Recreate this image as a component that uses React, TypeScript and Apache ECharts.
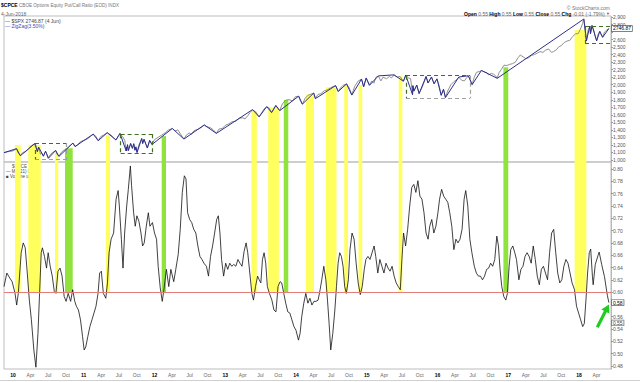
import React, { useEffect, useRef } from "react";
import * as echarts from "echarts";

// ---------- data (x = decimal year) ----------
const spx: number[][] = [
  [2009.873,1097],[2009.92,1108],[2009.96,1115],[2010.0,1120],[2010.03,1140],[2010.05,1150],[2010.075,1090],[2010.104,1060],[2010.14,1100],[2010.18,1110],[2010.22,1150],[2010.26,1190],[2010.307,1215],[2010.33,1180],[2010.345,1115],[2010.362,1168],[2010.39,1075],[2010.41,1090],[2010.43,1052],[2010.46,1115],[2010.48,1075],[2010.50,1025],[2010.53,1075],[2010.56,1100],[2010.603,1125],[2010.62,1080],[2010.649,1050],[2010.68,1095],[2010.71,1125],[2010.75,1140],[2010.79,1180],[2010.847,1222],[2010.877,1180],[2010.91,1195],[2010.95,1240],[2010.99,1258],
  [2011.03,1270],[2011.07,1290],[2011.10,1320],[2011.134,1342],[2011.17,1315],[2011.205,1258],[2011.24,1310],[2011.28,1330],[2011.332,1360],[2011.37,1340],[2011.40,1320],[2011.43,1290],[2011.455,1268],[2011.49,1320],[2011.512,1350],[2011.55,1310],[2011.58,1260],[2011.600,1122],[2011.619,1200],[2011.630,1126],[2011.663,1217],[2011.688,1156],[2011.707,1214],[2011.723,1131],[2011.737,1172],[2011.753,1102],[2011.78,1200],[2011.819,1282],[2011.833,1220],[2011.852,1272],[2011.899,1160],[2011.932,1258],[2011.964,1207],
  [2012.0,1270],[2012.05,1300],[2012.10,1330],[2012.15,1360],[2012.20,1400],[2012.252,1417],[2012.29,1385],[2012.33,1400],[2012.37,1340],[2012.416,1280],[2012.45,1330],[2012.49,1360],[2012.52,1340],[2012.56,1390],[2012.62,1410],[2012.66,1430],[2012.704,1463],[2012.74,1440],[2012.79,1430],[2012.83,1400],[2012.874,1355],[2012.91,1410],[2012.96,1420],
  [2013.0,1460],[2013.05,1480],[2013.10,1510],[2013.15,1515],[2013.20,1555],[2013.25,1560],[2013.28,1545],[2013.32,1590],[2013.35,1630],[2013.386,1666],[2013.43,1640],[2013.479,1575],[2013.52,1635],[2013.55,1680],[2013.586,1706],[2013.62,1690],[2013.655,1632],[2013.69,1680],[2013.715,1722],[2013.74,1690],[2013.770,1658],[2013.81,1750],[2013.86,1795],[2013.90,1802],[2013.95,1785],[2013.99,1840],
  [2014.038,1846],[2014.06,1790],[2014.090,1743],[2014.13,1820],[2014.17,1860],[2014.20,1870],[2014.25,1888],[2014.274,1817],[2014.31,1870],[2014.35,1880],[2014.40,1920],[2014.44,1930],[2014.49,1960],[2014.52,1975],[2014.56,1986],[2014.597,1912],[2014.64,1970],[2014.68,2000],[2014.715,2009],[2014.75,1960],[2014.789,1865],[2014.83,1980],[2014.88,2050],[2014.926,2073],[2014.956,1975],[2014.992,2088],
  [2015.038,1994],[2015.07,2050],[2015.10,2020],[2015.13,2100],[2015.164,2115],[2015.20,2050],[2015.23,2100],[2015.28,2080],[2015.32,2110],[2015.35,2090],[2015.386,2129],[2015.43,2100],[2015.47,2110],[2015.518,2048],[2015.551,2126],[2015.59,2090],[2015.62,2080],[2015.647,1870],[2015.652,1985],[2015.666,1916],[2015.707,1993],[2015.74,1884],[2015.78,1960],[2015.81,2030],[2015.838,2108],[2015.866,2025],[2015.915,2100],[2015.951,2014],[2015.992,2076],
  [2016.02,2000],[2016.052,1861],[2016.085,1938],[2016.112,1831],[2016.15,1930],[2016.19,2000],[2016.23,2040],[2016.27,2065],[2016.301,2100],[2016.34,2060],[2016.38,2050],[2016.41,2090],[2016.436,2117],[2016.489,2003],[2016.52,2100],[2016.55,2165],[2016.59,2175],[2016.621,2188],[2016.66,2170],[2016.70,2160],[2016.72,2130],[2016.76,2150],[2016.79,2140],[2016.82,2120],[2016.844,2087],[2016.87,2160],[2016.90,2200],[2016.94,2260],[2016.98,2255],
  [2017.02,2270],[2017.06,2280],[2017.10,2300],[2017.14,2360],[2017.17,2395],[2017.21,2370],[2017.25,2345],[2017.29,2360],[2017.33,2390],[2017.37,2400],[2017.41,2420],[2017.45,2440],[2017.49,2430],[2017.53,2460],[2017.57,2475],[2017.61,2430],[2017.64,2440],[2017.68,2465],[2017.71,2500],[2017.75,2520],[2017.79,2560],[2017.83,2580],[2017.87,2590],[2017.91,2640],[2017.95,2675],[2017.99,2680],
  [2018.02,2740],[2018.05,2810],[2018.068,2871],[2018.085,2760],[2018.104,2583],[2018.13,2730],[2018.153,2778],[2018.162,2680],[2018.184,2785],[2018.21,2720],[2018.23,2640],[2018.249,2584],[2018.27,2670],[2018.293,2707],[2018.31,2670],[2018.334,2632],[2018.36,2700],[2018.39,2725],[2018.422,2747]
];

const zigzag: number[][] = [
  [2009.873,1097],[2010.05,1150],[2010.104,1056],[2010.307,1217],[2010.345,1110],[2010.362,1171],[2010.43,1050],[2010.46,1117],[2010.50,1022],[2010.603,1127],[2010.649,1047],[2010.847,1225],[2010.877,1178],
  [2011.134,1343],[2011.205,1256],[2011.332,1363],[2011.455,1265],[2011.512,1353],[2011.600,1119],[2011.603,1172],[2011.605,1120],[2011.619,1204],[2011.630,1124],[2011.663,1219],[2011.688,1154],[2011.707,1216],[2011.723,1129],[2011.737,1175],[2011.753,1099],[2011.819,1285],[2011.833,1218],[2011.852,1275],[2011.899,1158],[2011.932,1261],[2011.964,1205],
  [2012.252,1419],[2012.416,1278],[2012.704,1466],[2012.874,1353],
  [2013.386,1669],[2013.479,1573],[2013.586,1709],[2013.655,1630],[2013.715,1725],[2013.770,1656],
  [2014.038,1848],[2014.090,1741],[2014.25,1890],[2014.274,1815],[2014.56,1988],[2014.597,1910],[2014.715,2011],[2014.789,1862],[2014.926,2075],[2014.956,1972],[2014.992,2090],
  [2015.038,1992],[2015.164,2117],[2015.386,2131],[2015.518,2046],[2015.551,2128],[2015.647,1868],[2015.652,1988],[2015.666,1914],[2015.707,1995],[2015.74,1882],[2015.838,2110],[2015.866,2023],[2015.915,2103],[2015.951,2012],[2015.992,2078],
  [2016.052,1859],[2016.085,1940],[2016.112,1829],[2016.301,2102],[2016.436,2119],[2016.489,2001],[2016.621,2190],[2016.844,2085],
  [2018.068,2873],[2018.104,2581],[2018.153,2780],[2018.162,2678],[2018.184,2787],[2018.249,2582],[2018.293,2709],[2018.334,2630],[2018.422,2747]
];

const cpceMA: number[][] = [
  [2009.873,0.609],[2009.913,0.631],[2009.954,0.623],[2009.988,0.617],[2010.029,0.598],[2010.052,0.579],[2010.075,0.598],[2010.116,0.664],[2010.145,0.680],[2010.173,0.672],[2010.202,0.631],[2010.231,0.587],[2010.260,0.555],[2010.295,0.506],[2010.324,0.478],[2010.353,0.533],[2010.376,0.598],[2010.399,0.664],[2010.416,0.672],[2010.445,0.658],[2010.474,0.639],[2010.497,0.664],[2010.526,0.642],[2010.555,0.626],[2010.584,0.601],[2010.607,0.598],[2010.636,0.634],[2010.665,0.639],[2010.694,0.626],[2010.723,0.593],[2010.751,0.585],[2010.780,0.598],[2010.815,0.585],[2010.844,0.604],[2010.873,0.585],[2010.896,0.577],[2010.925,0.571],[2010.954,0.555],[2010.983,0.528],
  [2011.006,0.506],[2011.029,0.511],[2011.058,0.528],[2011.087,0.544],[2011.116,0.555],[2011.145,0.566],[2011.173,0.577],[2011.202,0.598],[2011.225,0.631],[2011.249,0.634],[2011.277,0.598],[2011.312,0.590],[2011.335,0.615],[2011.358,0.664],[2011.387,0.686],[2011.422,0.696],[2011.457,0.751],[2011.486,0.765],[2011.503,0.740],[2011.532,0.686],[2011.555,0.639],[2011.578,0.696],[2011.607,0.740],[2011.630,0.767],[2011.659,0.805],[2011.676,0.773],[2011.705,0.729],[2011.728,0.707],[2011.751,0.724],[2011.780,0.715],[2011.809,0.696],[2011.832,0.675],[2011.855,0.680],[2011.884,0.707],[2011.913,0.729],[2011.936,0.707],[2011.971,0.713],
  [2012.000,0.696],[2012.029,0.686],[2012.052,0.642],[2012.081,0.607],[2012.110,0.585],[2012.133,0.604],[2012.168,0.637],[2012.202,0.609],[2012.231,0.637],[2012.272,0.617],[2012.301,0.637],[2012.335,0.661],[2012.364,0.702],[2012.393,0.762],[2012.422,0.789],[2012.445,0.784],[2012.468,0.729],[2012.497,0.718],[2012.526,0.713],[2012.555,0.702],[2012.584,0.696],[2012.613,0.675],[2012.642,0.658],[2012.671,0.653],[2012.699,0.647],[2012.734,0.642],[2012.763,0.626],[2012.792,0.658],[2012.821,0.675],[2012.850,0.696],[2012.879,0.718],[2012.902,0.724],[2012.925,0.696],[2012.948,0.653],[2012.977,0.626],
  [2013.006,0.647],[2013.035,0.637],[2013.064,0.647],[2013.092,0.642],[2013.121,0.645],[2013.150,0.642],[2013.179,0.653],[2013.208,0.647],[2013.237,0.642],[2013.266,0.666],[2013.295,0.680],[2013.318,0.664],[2013.347,0.631],[2013.376,0.598],[2013.399,0.587],[2013.428,0.609],[2013.457,0.626],[2013.480,0.620],[2013.503,0.615],[2013.526,0.653],[2013.549,0.664],[2013.572,0.647],[2013.595,0.609],[2013.624,0.598],[2013.659,0.587],[2013.688,0.571],[2013.717,0.568],[2013.746,0.609],[2013.775,0.617],[2013.798,0.615],[2013.827,0.598],[2013.855,0.582],[2013.884,0.568],[2013.913,0.566],[2013.942,0.555],[2013.971,0.544],
  [2014.000,0.538],[2014.035,0.522],[2014.058,0.533],[2014.081,0.560],[2014.110,0.582],[2014.139,0.598],[2014.168,0.582],[2014.197,0.590],[2014.225,0.579],[2014.254,0.585],[2014.283,0.585],[2014.312,0.587],[2014.341,0.604],[2014.364,0.620],[2014.393,0.642],[2014.422,0.620],[2014.445,0.587],[2014.468,0.549],[2014.491,0.506],[2014.520,0.533],[2014.549,0.571],[2014.572,0.609],[2014.595,0.647],[2014.618,0.664],[2014.642,0.658],[2014.665,0.642],[2014.688,0.609],[2014.711,0.598],[2014.740,0.620],[2014.763,0.669],[2014.792,0.696],[2014.821,0.686],[2014.850,0.647],[2014.879,0.615],[2014.908,0.596],[2014.936,0.609],[2014.965,0.637],[2014.988,0.653],
  [2015.017,0.658],[2015.046,0.653],[2015.075,0.664],[2015.104,0.675],[2015.127,0.658],[2015.156,0.631],[2015.185,0.653],[2015.214,0.642],[2015.243,0.631],[2015.272,0.647],[2015.301,0.639],[2015.329,0.634],[2015.358,0.642],[2015.387,0.626],[2015.416,0.615],[2015.445,0.609],[2015.474,0.604],[2015.497,0.653],[2015.520,0.696],[2015.549,0.675],[2015.578,0.702],[2015.607,0.740],[2015.636,0.770],[2015.665,0.775],[2015.694,0.762],[2015.723,0.781],[2015.751,0.756],[2015.780,0.751],[2015.809,0.729],[2015.838,0.696],[2015.867,0.686],[2015.890,0.707],[2015.919,0.718],[2015.948,0.696],[2015.977,0.707],
  [2016.006,0.729],[2016.029,0.751],[2016.058,0.767],[2016.087,0.756],[2016.116,0.751],[2016.145,0.746],[2016.173,0.729],[2016.202,0.707],[2016.231,0.669],[2016.260,0.686],[2016.289,0.680],[2016.318,0.686],[2016.347,0.702],[2016.376,0.751],[2016.399,0.765],[2016.428,0.740],[2016.457,0.686],[2016.486,0.664],[2016.520,0.642],[2016.549,0.631],[2016.578,0.626],[2016.607,0.626],[2016.636,0.620],[2016.665,0.626],[2016.694,0.637],[2016.723,0.639],[2016.751,0.647],[2016.780,0.642],[2016.809,0.653],[2016.838,0.691],[2016.861,0.675],[2016.884,0.637],[2016.908,0.609],[2016.936,0.593],[2016.965,0.587],[2016.988,0.598],
  [2017.012,0.642],[2017.035,0.669],[2017.064,0.675],[2017.092,0.664],[2017.116,0.653],[2017.150,0.620],[2017.179,0.637],[2017.208,0.642],[2017.237,0.658],[2017.266,0.664],[2017.295,0.658],[2017.324,0.647],[2017.353,0.675],[2017.382,0.653],[2017.410,0.626],[2017.439,0.612],[2017.468,0.637],[2017.497,0.642],[2017.526,0.631],[2017.555,0.620],[2017.584,0.664],[2017.613,0.696],[2017.642,0.702],[2017.671,0.664],[2017.699,0.631],[2017.728,0.615],[2017.757,0.620],[2017.786,0.642],[2017.815,0.653],[2017.844,0.647],[2017.873,0.631],[2017.902,0.615],[2017.936,0.604],[2017.965,0.577],[2017.994,0.566],
  [2018.023,0.555],[2018.052,0.544],[2018.075,0.549],[2018.098,0.587],[2018.121,0.631],[2018.145,0.664],[2018.165,0.670],[2018.19,0.625],[2018.20,0.612],[2018.23,0.645],[2018.27,0.660],[2018.285,0.665],[2018.32,0.645],[2018.36,0.625],[2018.40,0.595],[2018.422,0.583]
];

// signal bands: start, end (decimal year), top (SPX level), kind
const bandStart = [2010.028, 2010.216, 2010.594, 2010.735, 2011.314, 2012.102, 2013.370, 2013.607, 2013.827, 2014.139, 2014.422, 2014.682, 2014.884, 2015.451, 2016.931, 2017.938];
const bandEnd   = [2010.109, 2010.392, 2010.640, 2010.844, 2011.371, 2012.163, 2013.446, 2013.758, 2013.891, 2014.254, 2014.572, 2014.734, 2014.936, 2015.503, 2017.000, 2018.104];
const bandTop   = [1199, 1199, 1097, 1155, 1332, 1318, 1651, 1700, 1797, 1872, 1966, 2006, 1996, 2116, 2231, 2727];
const bandKind  = ["y", "y", "y", "g", "y", "g", "y", "y", "g", "y", "y", "y", "y", "y", "g", "y"];

// dashed consolidation boxes
const boxLeft   = [2010.311, 2011.522, 2015.555, 2018.085];
const boxRight  = [2010.759, 2011.975, 2016.459, 2018.452];
const boxTop    = [1224, 1341, 2120, 2780];
const boxBottom = [1005, 1083, 1819, 2554];
const boxLowerGray = [true, false, true, false];

const spxTicks = [1000,1100,1200,1300,1400,1500,1600,1700,1800,1900,2000,2100,2200,2300,2400,2500,2600,2700,2800,2900];
const spxHiddenLabels = [2700]; // covered by the last-value box
const cpceTicks = [0.48,0.50,0.52,0.54,0.56,0.58,0.60,0.62,0.64,0.66,0.68,0.70,0.72,0.74,0.76,0.78,0.80];
const cpceHiddenLabels = [0.58]; // covered by the last-value box
const yearLabels = ["10","11","12","13","14","15","16","17","18"];
const quarterLabels = ["Apr","Jul","Oct"];
const quarterOffsets = [0.247, 0.496, 0.748];

const lastSpx = 2746.87;
const threshold = 0.60;
const lastClose = 0.55;

const X_MIN = 2009.873, X_MAX = 2018.452;
const SPX_MIN = 973, SPX_MAX = 2913;
const CP_MIN = 0.4751, CP_MAX = 0.8114;

const FONT = "'Liberation Sans', Arial, sans-serif";
const YELLOW = "#ffff5e";
const GREEN = "#8fe33c";
const BOXGREEN = "#3f6e25";
const BOXGRAY = "#a0a0a0";

export default function App() {
  const ref = useRef<HTMLDivElement>(null);
  useEffect(() => {
    if (!ref.current) return;
    const chart = echarts.init(ref.current, null, { renderer: "svg" });

    const xTicks: number[] = [];
    const xText: string[] = [];
    yearLabels.forEach((yy, i) => {
      const y = 2010 + i;
      xTicks.push(y); xText.push(yy);
      quarterOffsets.forEach((q, j) => {
        if (y + q < X_MAX - 0.05) { xTicks.push(y + q); xText.push(quarterLabels[j]); }
      });
    });

    const bandColor = (k: string) => (k === "g" ? GREEN : YELLOW);
    const topBands = bandStart.map((s, i) => [
      { coord: [s, bandTop[i]], itemStyle: { color: bandColor(bandKind[i]) } },
      { coord: [bandEnd[i], SPX_MIN] },
    ]);
    const bottomBands = bandStart.map((s, i) => [
      { coord: [s, CP_MAX], itemStyle: { color: bandColor(bandKind[i]) } },
      { coord: [bandEnd[i], threshold] },
    ]);

    const boxLines: any[] = [];
    boxLeft.forEach((l, i) => {
      const r = boxRight[i], t = boxTop[i], b = boxBottom[i];
      const g = { color: BOXGREEN, type: [4, 3], width: 1.2 };
      const lo = boxLowerGray[i] ? { color: BOXGRAY, type: [4, 3], width: 1.2 } : g;
      boxLines.push([{ coord: [l, t], lineStyle: g }, { coord: [r, t] }]);
      boxLines.push([{ coord: [l, t], lineStyle: g }, { coord: [l, b] }]);
      boxLines.push([{ coord: [l, b], lineStyle: lo }, { coord: [r, b] }]);
      if (r < X_MAX - 0.01) boxLines.push([{ coord: [r, t], lineStyle: lo }, { coord: [r, b] }]);
    });

    const yAxisCommon = {
      position: "right",
      axisLine: { show: true, lineStyle: { color: "#b0b0b0", type: "dotted", width: 1 } },
      axisTick: { show: true, length: 2, lineStyle: { color: "#999" } },
      splitLine: { show: false },
    };
    const boxLabel = {
      fontSize: 5, lineHeight: 5, color: "#000", backgroundColor: "#fff", borderColor: "#555", borderWidth: 0.7,
      padding: [0, 1, 0, 1], fontFamily: FONT,
    };

    const option: any = {
      animation: false,
      backgroundColor: "#ffffff",
      textStyle: { fontFamily: FONT },
      grid: [
        { left: 4, top: 16, width: 607, height: 146, show: true, borderColor: "#bdbdbd", borderWidth: 1, backgroundColor: "transparent" },
        { left: 4, top: 162, width: 607, height: 207, show: true, borderColor: "#bdbdbd", borderWidth: 1, backgroundColor: "transparent" },
      ],
      xAxis: [
        { type: "value", gridIndex: 0, min: X_MIN, max: X_MAX, axisLine: { show: false }, axisTick: { show: false }, axisLabel: { show: false }, splitLine: { show: false } },
        {
          type: "value", gridIndex: 1, min: X_MIN, max: X_MAX,
          axisLine: { show: false }, axisTick: { show: false }, splitLine: { show: false },
          axisLabel: {
            customValues: xTicks, fontSize: 5, color: "#666", margin: 3, fontFamily: FONT,
            formatter: (v: number) => {
              const i = xTicks.findIndex((t) => Math.abs(t - v) < 1e-6);
              const s = i >= 0 ? xText[i] : "";
              return /^\d/.test(s) ? `{b|${s}}` : s;
            },
            rich: { b: { fontWeight: "bold", color: "#000", fontSize: 5, fontFamily: FONT } },
          },
        },
      ],
      yAxis: [
        { ...yAxisCommon, type: "value", gridIndex: 0, min: SPX_MIN, max: SPX_MAX,
          axisLabel: { customValues: spxTicks.filter((v) => !spxHiddenLabels.includes(v)), fontSize: 5, lineHeight: 5, color: "#555", margin: 2, fontFamily: FONT },
          axisTick: { ...yAxisCommon.axisTick, customValues: spxTicks } },
        { ...yAxisCommon, type: "value", gridIndex: 1, min: CP_MIN, max: CP_MAX,
          axisLabel: { customValues: cpceTicks.filter((v) => !cpceHiddenLabels.includes(v)), fontSize: 5, lineHeight: 5, color: "#555", margin: 2, fontFamily: FONT, formatter: (v: number) => v.toFixed(2) },
          axisTick: { ...yAxisCommon.axisTick, customValues: cpceTicks } },
      ],
      series: [
        { name: "bandsTop", type: "line", xAxisIndex: 0, yAxisIndex: 0, data: [], silent: true, z: 1,
          markArea: { silent: true, data: topBands } },
        { name: "bandsBottom", type: "line", xAxisIndex: 1, yAxisIndex: 1, data: [], silent: true, z: 1,
          markArea: { silent: true, data: bottomBands } },
        { name: "$SPX", type: "line", xAxisIndex: 0, yAxisIndex: 0, data: spx, showSymbol: false, z: 3,
          lineStyle: { color: "#8f8f8f", width: 1 },
          endLabel: { show: true, formatter: lastSpx.toFixed(2), distance: 3, ...boxLabel } },
        { name: "ZigZag", type: "line", xAxisIndex: 0, yAxisIndex: 0, data: zigzag, showSymbol: false, z: 4,
          lineStyle: { color: "#2d2d8f", width: 1 } },
        { name: "boxes", type: "line", xAxisIndex: 0, yAxisIndex: 0, data: [], silent: true, z: 5,
          markLine: { silent: true, symbol: ["none", "none"], label: { show: false }, data: boxLines } },
        { name: "MA(21)", type: "line", xAxisIndex: 1, yAxisIndex: 1, data: cpceMA, showSymbol: false, z: 3,
          lineStyle: { color: "#111", width: 0.8 },
          markLine: { silent: true, symbol: ["none", "none"], label: { show: false },
            lineStyle: { color: "#e57c7c", width: 1, type: "solid" }, data: [{ yAxis: threshold }] },
          endLabel: { show: true, formatter: (p: any) => p.value[1].toFixed(2), distance: 3, ...boxLabel } },
        { name: "close", type: "scatter", xAxisIndex: 1, yAxisIndex: 1, data: [[cpceMA[cpceMA.length - 1][0], lastClose]],
          symbolSize: 0, z: 6, silent: true,
          label: { show: true, position: "right", distance: 3, formatter: lastClose.toFixed(2), ...boxLabel } },
      ],
      graphic: [
        { type: "text", x: 1, y: 2.5, style: { text: "$CPCE", fontSize: 5, fontWeight: "bold", fill: "#000", fontFamily: FONT } },
        { type: "text", x: 19, y: 3, style: { text: "CBOE Options Equity Put/Call Ratio (EOD) INDX", fontSize: 4.6, fill: "#777", fontFamily: FONT } },
        { type: "text", x: 1, y: 11, style: { text: "4-Jun-2018", fontSize: 5, fill: "#666", fontFamily: FONT } },
        { type: "text", x: 5, y: 18, style: { text: "— $SPX 2746.87 (4 Jun)", fontSize: 5, fill: "#444", fontFamily: FONT } },
        { type: "text", x: 5, y: 23, style: { text: "— ZigZag(3.50%)", fontSize: 5, fill: "#4a4ab8", fontFamily: FONT } },
        { type: "text", x: 610, y: 5, style: { text: "© StockCharts.com", fontSize: 5, fill: "#777", align: "right", fontFamily: FONT } },
        { type: "text", x: 610, y: 11, style: {
            text: "{b|Open} 0.55 {b|High} 0.55 {b|Low} 0.55 {b|Close} 0.55 {b|Chg} -0.01 (-1.79%) {r|▼}",
            fontSize: 5, fill: "#666", align: "right", fontFamily: FONT,
            rich: { b: { fontWeight: "bold", fill: "#000", fontSize: 5, fontFamily: FONT }, r: { fill: "#d22", fontSize: 4 } } } },
        { type: "text", x: 12, y: 164, style: { text: "$CPCE", fontSize: 4.5, fill: "#555", fontFamily: FONT } },
        { type: "text", x: 6, y: 169, style: { text: "— MA(21) 0.58", fontSize: 4.5, fill: "#444", fontFamily: FONT } },
        { type: "text", x: 6, y: 174, style: { text: "■ Volume undef", fontSize: 4.5, fill: "#444", fontFamily: FONT } },
        { type: "line", shape: { x1: 0, y1: 380.5, x2: 640, y2: 380.5 }, style: { stroke: "#d0d0d0", lineWidth: 1 } },
        { type: "polygon", z: 100, shape: { points: [[598.7, 328], [606.7, 312.2], [609.4, 313.6], [609, 304.5], [601.3, 309.5], [603.9, 310.8], [595.9, 326.6]] },
          style: { fill: "#1fcc1f" } },
      ],
    };
    chart.setOption(option);
    return () => chart.dispose();
  }, []);
  return <div ref={ref} style={{ position: "fixed", left: 0, top: 0, width: 640, height: 382, background: "#fff" }} />;
}
